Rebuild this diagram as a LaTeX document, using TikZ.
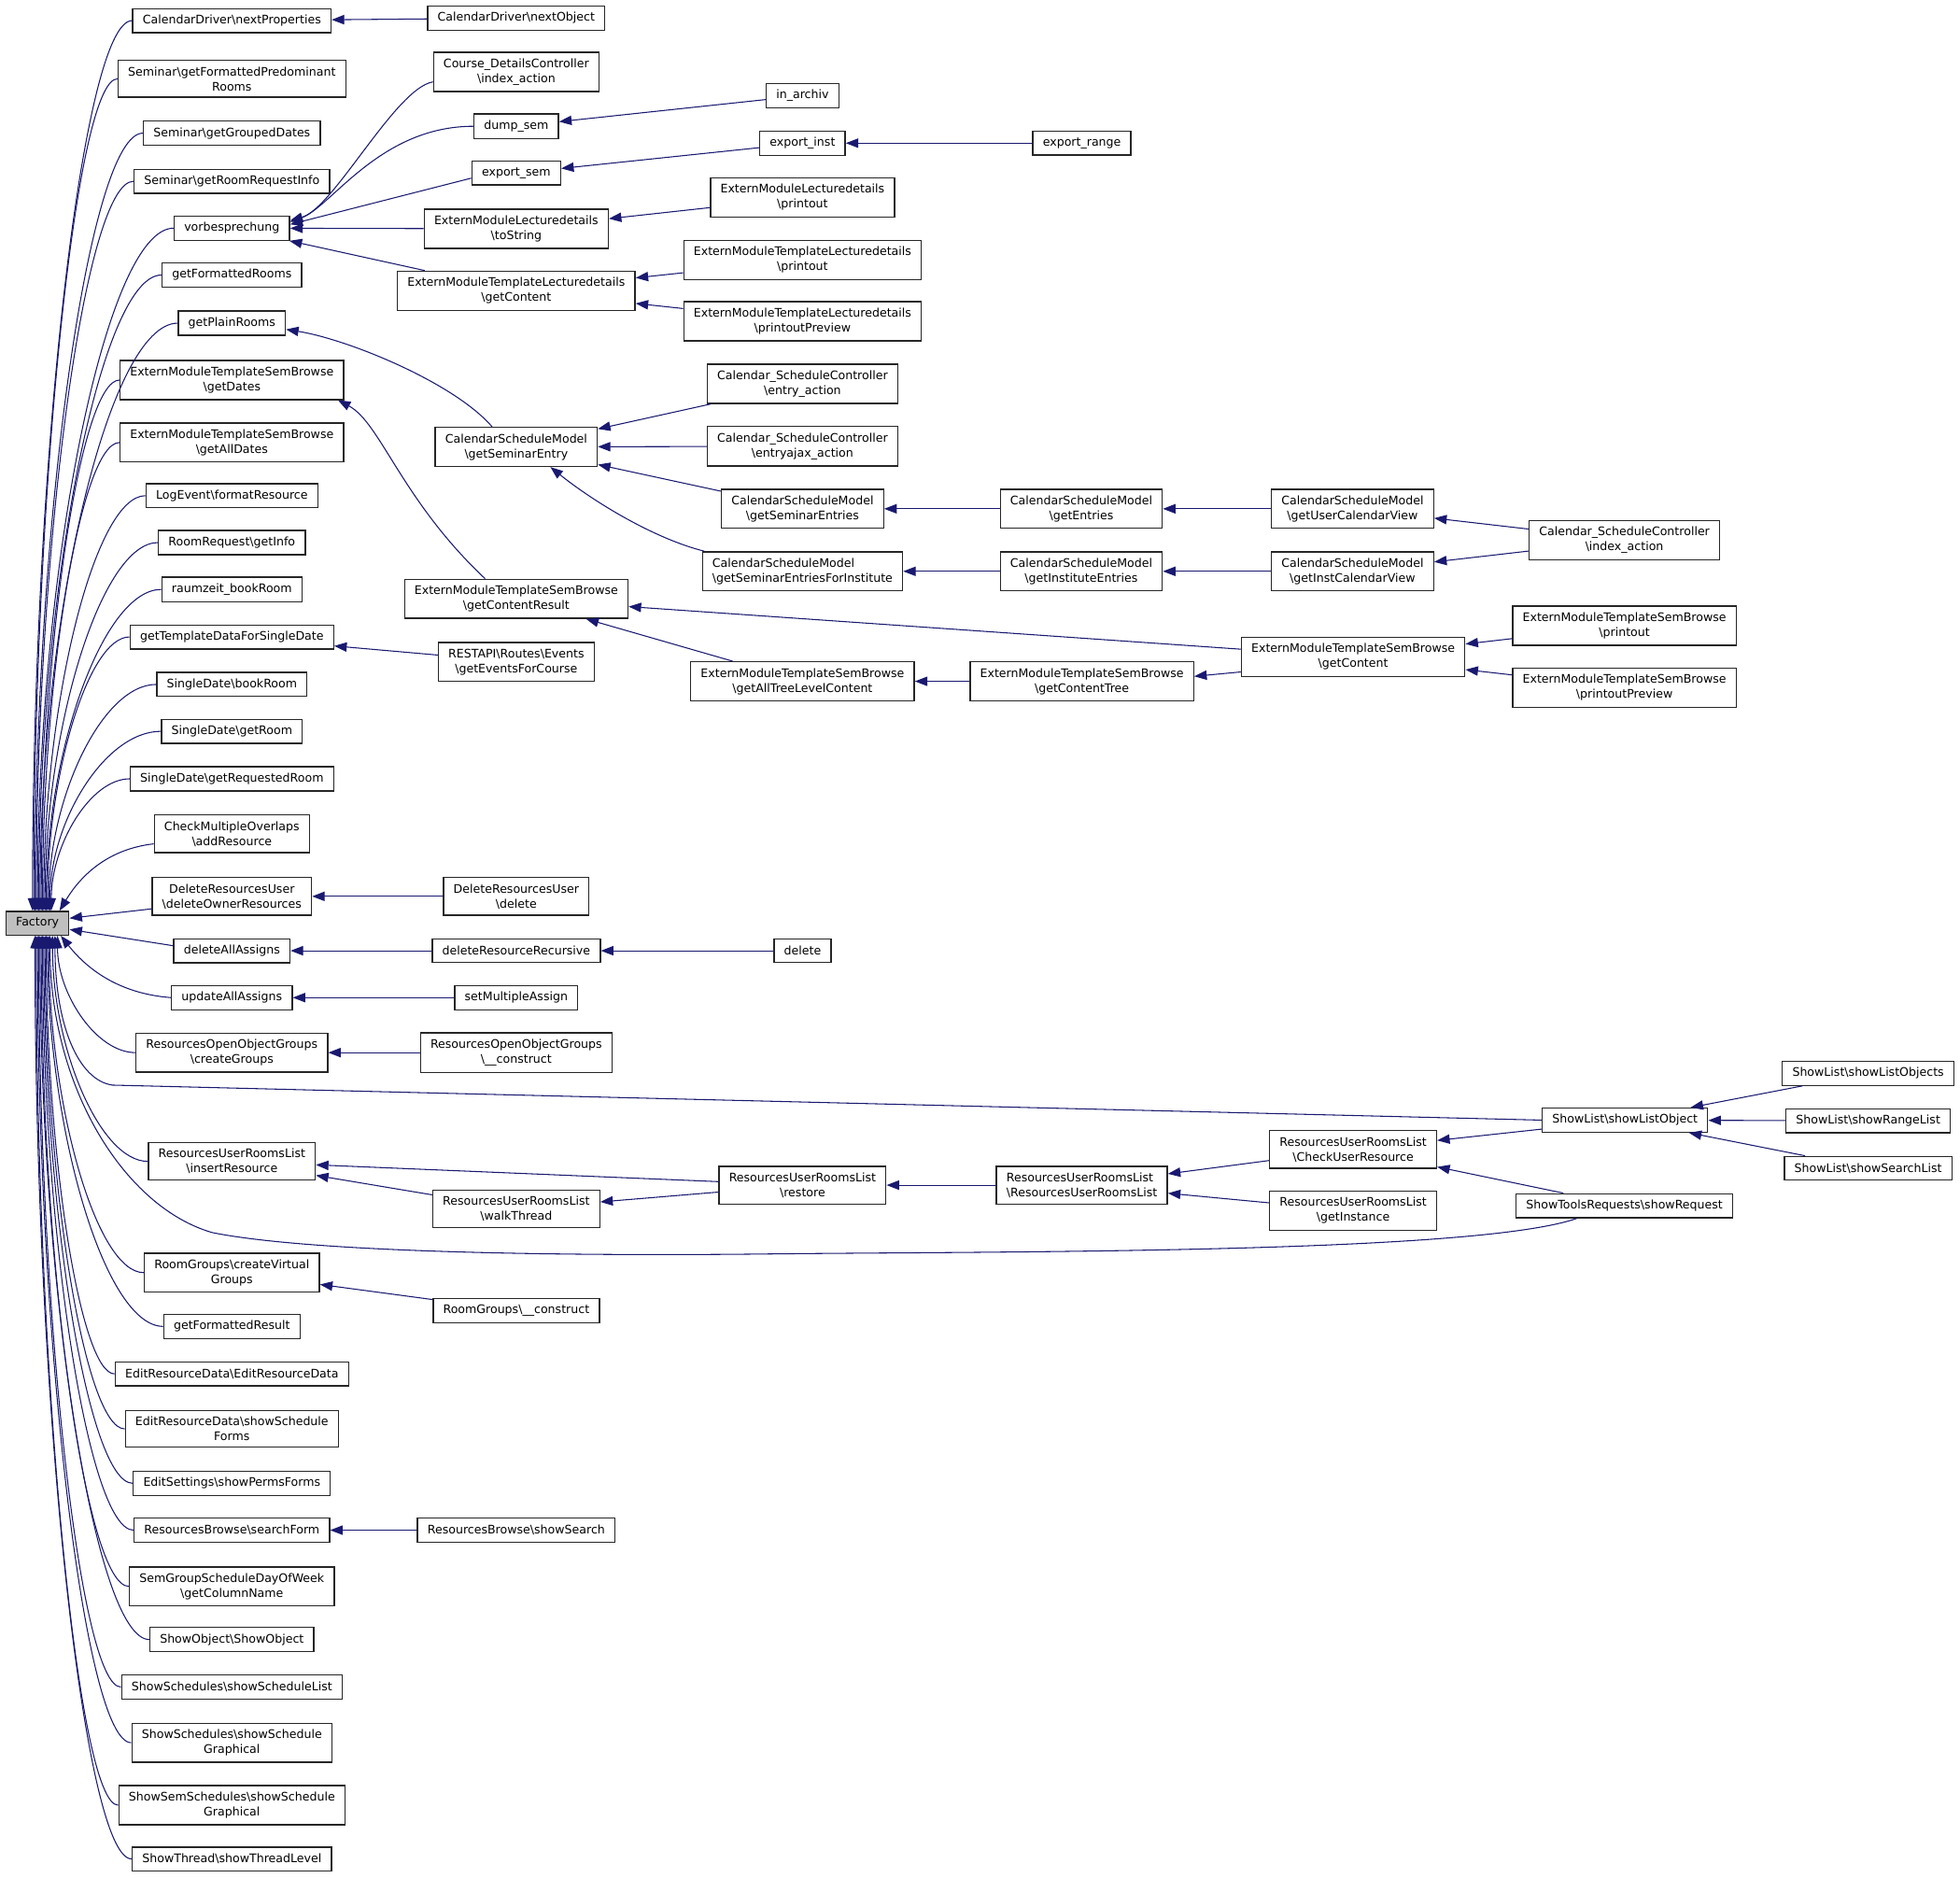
\documentclass[tikz,border=0pt]{standalone}
\usepackage{fontspec}
\setmainfont{DejaVu Sans}
\usepackage{tikz}
\usetikzlibrary{arrows.meta,calc,positioning,shapes}
\definecolor{edgeblue}{RGB}{25,25,112}
\definecolor{factorygray}{RGB}{191,191,191}
\newcommand{\Bs}{\textbackslash}
\newcommand{\dgfont}{\fontsize{5.35}{6.8}\selectfont}
\tikzset{%
	fn/.style       = {draw=black!85, fill=white, rectangle, line width=0.55pt, inner xsep=0.16cm, inner ysep=2.9pt, minimum height=0.38cm, align=center, font=\dgfont},
	calledge/.style = {draw=edgeblue, line width=0.45pt, {Triangle[length=0.2cm,width=0.15cm]}-},
}

\begin{document}
\begin{tikzpicture}[x=0.02cm,y=-0.02cm]
	\useasboundingbox (0,0) rectangle (1568,1502);

	\node[fn, fill=factorygray] (factory) at (30,738.5) {Factory};

	% callers of Factory
	\node[fn] (nextProps)     at (185.5,16.5)   {CalendarDriver\Bs{}nextProperties};
	\node[fn] (predRooms)     at (185.5,63)     {Seminar\Bs{}getFormattedPredominant\\Rooms};
	\node[fn] (groupedDates)  at (185.5,106.5)  {Seminar\Bs{}getGroupedDates};
	\node[fn] (roomReqInfo)   at (185.5,145)    {Seminar\Bs{}getRoomRequestInfo};
	\node[fn] (vorb)          at (185.5,182.5)  {vorbesprechung};
	\node[fn] (fmtRooms)      at (185.5,220)    {getFormattedRooms};
	\node[fn] (plainRooms)    at (185.5,258.5)  {getPlainRooms};
	\node[fn] (sbDates)       at (185.5,304)    {ExternModuleTemplateSemBrowse\\\Bs{}getDates};
	\node[fn] (sbAllDates)    at (185.5,354)    {ExternModuleTemplateSemBrowse\\\Bs{}getAllDates};
	\node[fn] (logFormat)     at (185.5,396.5)  {LogEvent\Bs{}formatResource};
	\node[fn] (reqInfo)       at (185.5,434)    {RoomRequest\Bs{}getInfo};
	\node[fn] (rzBook)        at (185.5,471.5)  {raumzeit\_bookRoom};
	\node[fn] (tplData)       at (185.5,509.5)  {getTemplateDataForSingleDate};
	\node[fn] (sdBook)        at (185.5,547.5)  {SingleDate\Bs{}bookRoom};
	\node[fn] (sdGetRoom)     at (185.5,585)    {SingleDate\Bs{}getRoom};
	\node[fn] (sdReqRoom)     at (185.5,623)    {SingleDate\Bs{}getRequestedRoom};
	\node[fn] (overlaps)      at (185.5,667)    {CheckMultipleOverlaps\\\Bs{}addResource};
	\node[fn] (delOwner)      at (185.5,717)    {DeleteResourcesUser\\\Bs{}deleteOwnerResources};
	\node[fn] (delAll)        at (185.5,760.5)  {deleteAllAssigns};
	\node[fn] (updAll)        at (185.5,798)    {updateAllAssigns};
	\node[fn] (oogCreate)     at (185.5,842)    {ResourcesOpenObjectGroups\\\Bs{}createGroups};
	\node[fn] (insRes)        at (185.5,929)    {ResourcesUserRoomsList\\\Bs{}insertResource};
	\node[fn] (virtGroups)    at (185.5,1018)   {RoomGroups\Bs{}createVirtual\\Groups};
	\node[fn] (fmtResult)     at (185.5,1061)   {getFormattedResult};
	\node[fn] (editData)      at (185.5,1099)   {EditResourceData\Bs{}EditResourceData};
	\node[fn] (schedForms)    at (185.5,1143)   {EditResourceData\Bs{}showSchedule\\Forms};
	\node[fn] (permsForms)    at (185.5,1186.5) {EditSettings\Bs{}showPermsForms};
	\node[fn] (searchForm)    at (185.5,1224)   {ResourcesBrowse\Bs{}searchForm};
	\node[fn] (colName)       at (185.5,1269)   {SemGroupScheduleDayOfWeek\\\Bs{}getColumnName};
	\node[fn] (showObj)       at (185.5,1311.5) {ShowObject\Bs{}ShowObject};
	\node[fn] (schedList)     at (185.5,1349.5) {ShowSchedules\Bs{}showScheduleList};
	\node[fn] (schedGraph)    at (185.5,1394)   {ShowSchedules\Bs{}showSchedule\\Graphical};
	\node[fn] (semSchedGraph) at (185.5,1444)   {ShowSemSchedules\Bs{}showSchedule\\Graphical};
	\node[fn] (threadLevel)   at (185.5,1487)   {ShowThread\Bs{}showThreadLevel};

	\node[fn] (nextObj)       at (413,14.5)     {CalendarDriver\Bs{}nextObject};
	\node[fn] (courseIdx)     at (413,57.5)     {Course\_DetailsController\\\Bs{}index\_action};
	\node[fn] (dumpSem)       at (413,101)      {dump\_sem};
	\node[fn] (exportSem)     at (413,138.5)    {export\_sem};
	\node[fn] (toString)      at (413,183)      {ExternModuleLecturedetails\\\Bs{}toString};
	\node[fn] (tplContent)    at (413,232.5)    {ExternModuleTemplateLecturedetails\\\Bs{}getContent};
	\node[fn] (semEntry)      at (413,357.5)    {CalendarScheduleModel\\\Bs{}getSeminarEntry};
	\node[fn] (contentResult) at (413,479)      {ExternModuleTemplateSemBrowse\\\Bs{}getContentResult};
	\node[fn] (restEvents)    at (413,529.5)    {RESTAPI\Bs{}Routes\Bs{}Events\\\Bs{}getEventsForCourse};
	\node[fn] (delUser)       at (413,717)      {DeleteResourcesUser\\\Bs{}delete};
	\node[fn] (delRec)        at (413,760.5)    {deleteResourceRecursive};
	\node[fn] (setMulti)      at (413,798)      {setMultipleAssign};
	\node[fn] (oogConstruct)  at (413,842)      {ResourcesOpenObjectGroups\\\Bs{}\_\_construct};
	\node[fn] (walkThread)    at (413,967)      {ResourcesUserRoomsList\\\Bs{}walkThread};
	\node[fn] (rgConstruct)   at (413,1048.5)   {RoomGroups\Bs{}\_\_construct};
	\node[fn] (showSearch)    at (413,1224)     {ResourcesBrowse\Bs{}showSearch};

	\node[fn] (inArchiv)      at (642,76.5)     {in\_archiv};
	\node[fn] (exportInst)    at (642,114.5)    {export\_inst};
	\node[fn] (ldPrintout)    at (642,158)      {ExternModuleLecturedetails\\\Bs{}printout};
	\node[fn] (tlPrintout)    at (642,208)      {ExternModuleTemplateLecturedetails\\\Bs{}printout};
	\node[fn] (tlPreview)     at (642,257)      {ExternModuleTemplateLecturedetails\\\Bs{}printoutPreview};
	\node[fn] (entryAction)   at (642,307)      {Calendar\_ScheduleController\\\Bs{}entry\_action};
	\node[fn] (entryAjax)     at (642,357)      {Calendar\_ScheduleController\\\Bs{}entryajax\_action};
	\node[fn] (semEntries)    at (642,407)      {CalendarScheduleModel\\\Bs{}getSeminarEntries};
	\node[fn, align=left] (semEntriesInst) at (642,457) {CalendarScheduleModel\\\Bs{}getSeminarEntriesForInstitute};
	\node[fn] (allTree)       at (642,545)      {ExternModuleTemplateSemBrowse\\\Bs{}getAllTreeLevelContent};
	\node[fn] (delNode)       at (642,760.5)    {delete};
	\node[fn] (restore)       at (642,948)      {ResourcesUserRoomsList\\\Bs{}restore};

	\node[fn] (exportRange)   at (865.5,114.5)  {export\_range};
	\node[fn] (getEntries)    at (865,407)      {CalendarScheduleModel\\\Bs{}getEntries};
	\node[fn] (instEntries)   at (865,457)      {CalendarScheduleModel\\\Bs{}getInstituteEntries};
	\node[fn] (contentTree)   at (865.5,545)    {ExternModuleTemplateSemBrowse\\\Bs{}getContentTree};
	\node[fn, align=left] (rurlCtor) at (865.5,948) {ResourcesUserRoomsList\\\Bs{}ResourcesUserRoomsList};

	\node[fn] (userCal)       at (1082,407)     {CalendarScheduleModel\\\Bs{}getUserCalendarView};
	\node[fn] (instCal)       at (1082,457)     {CalendarScheduleModel\\\Bs{}getInstCalendarView};
	\node[fn] (sbContent)     at (1082.5,525.5) {ExternModuleTemplateSemBrowse\\\Bs{}getContent};
	\node[fn] (checkUser)     at (1082.5,919.5) {ResourcesUserRoomsList\\\Bs{}CheckUserResource};
	\node[fn] (getInst)       at (1082.5,968.5) {ResourcesUserRoomsList\\\Bs{}getInstance};

	\node[fn] (csIndex)       at (1299.5,432)   {Calendar\_ScheduleController\\\Bs{}index\_action};
	\node[fn] (sbPrintout)    at (1299.5,500.5) {ExternModuleTemplateSemBrowse\\\Bs{}printout};
	\node[fn] (sbPreview)     at (1299.5,550)   {ExternModuleTemplateSemBrowse\\\Bs{}printoutPreview};
	\node[fn] (listObj)       at (1300,896)     {ShowList\Bs{}showListObject};
	\node[fn] (showReq)       at (1299.5,964.5) {ShowToolsRequests\Bs{}showRequest};

	\node[fn] (listObjs)      at (1494.5,858.5) {ShowList\Bs{}showListObjects};
	\node[fn] (rangeList)     at (1494.5,896.5) {ShowList\Bs{}showRangeList};
	\node[fn] (searchList)    at (1494.5,934.5) {ShowList\Bs{}showSearchList};

	% fan into Factory
	\foreach \n/\tx in {nextProps/26,predRooms/27,groupedDates/28,roomReqInfo/29,vorb/30,fmtRooms/31,plainRooms/32,sbDates/33,sbAllDates/34,logFormat/35,reqInfo/36,rzBook/37,tplData/38,sdBook/39,sdGetRoom/40,sdReqRoom/41}{
		\coordinate (ft) at (\tx,0 |- factory.north);
		\coordinate (fc) at (ft |- \n.west);
		\draw[calledge] (ft) .. controls ($(ft)!0.5!(fc)$) and ($(\n.west)!0.5!(fc)$) .. (\n.west);
	}
	\foreach \n/\tx in {oogCreate/46,insRes/42,virtGroups/39,fmtResult/38,editData/37,schedForms/36,permsForms/35,searchForm/34,colName/33,showObj/32,schedList/31,schedGraph/30,semSchedGraph/29,threadLevel/28}{
		\coordinate (ft) at (\tx,0 |- factory.south);
		\coordinate (fc) at (ft |- \n.west);
		\draw[calledge] (ft) .. controls ($(ft)!0.5!(fc)$) and ($(\n.west)!0.5!(fc)$) .. (\n.west);
	}
	\draw[calledge] ($(factory.north east)+(-8,0)$) .. controls +(18,-30) and +(-35,4) .. ($(overlaps.west)+(0,8)$);
	\draw[calledge] ($(factory.east)+(0,-4)$) -- ($(delOwner.west)+(0,10)$);
	\draw[calledge] ($(factory.east)+(0,5)$) -- ($(delAll.west)+(0,-4)$);
	\draw[calledge] ($(factory.south east)+(-7,0)$) .. controls +(22,28) and +(-40,-3) .. (updAll.west);
	\coordinate (listBend) at (90,868);
	\draw[calledge] ($(factory.south)+(14,0)$) .. controls +(0,70) and +(-28,-4) .. (listBend) -- (listObj.west);
	\draw[calledge] ($(factory.south)+(10,0)$) .. controls +(0,122) and (100,966) .. (170,986)
		.. controls (250,1002) and (450,1005) .. (620,1003)
		.. controls (800,1001) and (1180,1003) .. ($(showReq.south west)+(49,0)$);

	% the other calls
	\draw[calledge] (nextProps) -- (nextObj);
	\draw[calledge] ($(vorb.east)+(0,-6)$) .. controls +(35,-10) and +(-30,5) .. ($(courseIdx.west)+(0,8)$);
	\draw[calledge] ($(vorb.east)+(0,-5)$) .. controls +(33,-12) and +(-75,0) .. (dumpSem.west);
	\draw[calledge] ($(vorb.east)+(0,-3)$) -- ($(exportSem.west)+(0,4)$);
	\draw[calledge] (vorb) -- (toString);
	\draw[calledge] (vorb) -- (tplContent);
	\draw[calledge] (dumpSem) -- (inArchiv);
	\draw[calledge] (exportSem) -- (exportInst);
	\draw[calledge] (exportInst) -- (exportRange);
	\draw[calledge] (toString) -- (ldPrintout);
	\draw[calledge] (tplContent) -- (tlPrintout);
	\draw[calledge] (tplContent) -- (tlPreview);
	\draw[calledge] ($(plainRooms.east)+(0,5)$) .. controls +(50,8) and +(-30,-35) .. ($(semEntry.north west)+(46,0)$);
	\draw[calledge] ($(sbDates.south east)+(-5,0)$) .. controls +(34,18) and +(-67,-63) .. ($(contentResult.north west)+(65,0)$);
	\draw[calledge] (tplData) -- (restEvents);
	\draw[calledge] (semEntry) -- (entryAction);
	\draw[calledge] (semEntry) -- (entryAjax);
	\draw[calledge] (semEntry) -- (semEntries);
	\draw[calledge] ($(semEntry.south east)+(-38,0)$) .. controls +(35,28) and +(-40,-10) .. ($(semEntriesInst.north west)+(2,0)$);
	\draw[calledge] (semEntries) -- (getEntries);
	\draw[calledge] (getEntries) -- (userCal);
	\draw[calledge] (userCal) -- (csIndex);
	\draw[calledge] (semEntriesInst) -- (instEntries);
	\draw[calledge] (instEntries) -- (instCal);
	\draw[calledge] (instCal) -- (csIndex);
	\draw[calledge] (contentResult) -- (sbContent);
	\draw[calledge] (contentResult) -- (allTree);
	\draw[calledge] (allTree) -- (contentTree);
	\draw[calledge] ($(contentTree.east)+(0,-4)$) -- ($(sbContent.west)+(0,12)$);
	\draw[calledge] (sbContent) -- (sbPrintout);
	\draw[calledge] (sbContent) -- (sbPreview);
	\draw[calledge] (delOwner) -- (delUser);
	\draw[calledge] (delAll) -- (delRec);
	\draw[calledge] (delRec) -- (delNode);
	\draw[calledge] (updAll) -- (setMulti);
	\draw[calledge] (oogCreate) -- (oogConstruct);
	\draw[calledge] (insRes) -- (restore);
	\draw[calledge] (insRes) -- (walkThread);
	\draw[calledge] (walkThread) -- (restore);
	\draw[calledge] (restore) -- (rurlCtor);
	\draw[calledge] (rurlCtor) -- (checkUser);
	\draw[calledge] (rurlCtor) -- (getInst);
	\draw[calledge] (checkUser) -- (listObj);
	\draw[calledge] (checkUser) -- (showReq);
	\draw[calledge] (listObj) -- (listObjs);
	\draw[calledge] (listObj) -- (rangeList);
	\draw[calledge] (listObj) -- (searchList);
	\draw[calledge] (virtGroups) -- (rgConstruct);
	\draw[calledge] (searchForm) -- (showSearch);
\end{tikzpicture}
\end{document}
